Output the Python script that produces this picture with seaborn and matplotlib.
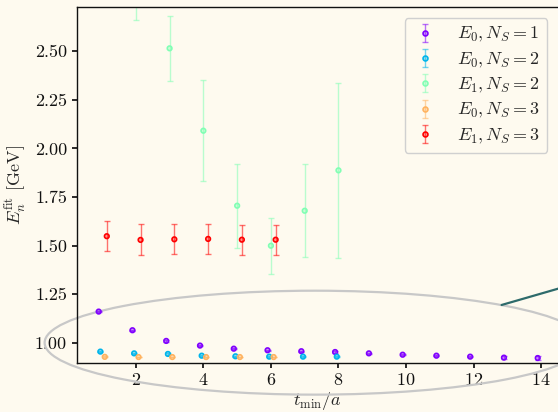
import numpy as np
import pandas as pd
import matplotlib
matplotlib.use("Agg")
import matplotlib.pyplot as plt
import seaborn as sns
from matplotlib.patches import Ellipse
from matplotlib.lines import Line2D
from matplotlib.legend_handler import HandlerTuple

# ---- data ----
t_e0_ns1 = [1, 2, 3, 4, 5, 6, 7, 8, 9, 10, 11, 12, 13, 14]
e0_ns1 = [1.160, 1.064, 1.009, 0.985, 0.969, 0.961, 0.956, 0.952, 0.945, 0.938, 0.933, 0.928, 0.923, 0.921]
e0_ns1_err = [0.004, 0.003, 0.003, 0.003, 0.003, 0.003, 0.003, 0.003, 0.003, 0.003, 0.003, 0.004, 0.006, 0.012]

t_e0_ns2 = [1, 2, 3, 4, 5, 6, 7, 8]
e0_ns2 = [0.954, 0.945, 0.942, 0.933, 0.930, 0.928, 0.928, 0.928]
e0_ns2_err = [0.003, 0.003, 0.003, 0.003, 0.003, 0.003, 0.003, 0.003]

t_e1_ns2 = [2, 3, 4, 5, 6, 7, 8]
e1_ns2 = [2.90, 2.515, 2.091, 1.705, 1.499, 1.679, 1.887]
e1_ns2_err = [0.24, 0.167, 0.26, 0.216, 0.144, 0.24, 0.45]

t_e0_ns3 = [1, 2, 3, 4, 5, 6]
e0_ns3 = [0.927, 0.926, 0.926, 0.926, 0.926, 0.926]
e0_ns3_err = [0.002, 0.002, 0.002, 0.002, 0.002, 0.002]

t_e1_ns3 = [1, 2, 3, 4, 5, 6]
e1_ns3 = [1.548, 1.529, 1.532, 1.534, 1.530, 1.530]
e1_ns3_err = [0.077, 0.080, 0.078, 0.078, 0.078, 0.078]

labels = [r"$E_0, N_S = 1$", r"$E_0, N_S = 2$", r"$E_1, N_S = 2$",
          r"$E_0, N_S = 3$", r"$E_1, N_S = 3$"]
offsets = [-0.1, -0.05, 0.0, 0.08, 0.14]

series = [
    (t_e0_ns1, e0_ns1, e0_ns1_err),
    (t_e0_ns2, e0_ns2, e0_ns2_err),
    (t_e1_ns2, e1_ns2, e1_ns2_err),
    (t_e0_ns3, e0_ns3, e0_ns3_err),
    (t_e1_ns3, e1_ns3, e1_ns3_err),
]

bg = "#fefaef"
sns.set_theme(style="ticks", rc={
    "figure.facecolor": bg, "axes.facecolor": bg, "savefig.facecolor": bg,
    "axes.edgecolor": "#111111", "axes.linewidth": 1.0,
    "xtick.direction": "out", "ytick.direction": "out",
    "xtick.major.size": 3.5, "ytick.major.size": 3.5,
    "xtick.color": "#111111", "ytick.color": "#111111",
})
plt.rcParams["font.family"] = ["cmr10", "DejaVu Serif"]
plt.rcParams["mathtext.fontset"] = "cm"
plt.rcParams["axes.formatter.use_mathtext"] = True

colors = [plt.cm.rainbow(v) for v in np.linspace(0, 1, 5)]

fig = plt.figure(figsize=(5.58, 4.12), dpi=100)
ax = fig.add_axes([0.1375, 0.1197, 0.8625, 0.8625])

frames = []
for i, ((t, v, e), lab) in enumerate(zip(series, labels)):
    x = np.array(t, dtype=float) + offsets[i]
    frames.append(pd.DataFrame({"x": x, "y": v, "err": e, "series": lab}))
df = pd.concat(frames, ignore_index=True)

handles = []
for i, lab in enumerate(labels):
    d = df[df["series"] == lab]
    c = colors[i]
    eb = ax.errorbar(d["x"], d["y"], yerr=d["err"], fmt="none", ecolor=c,
                     elinewidth=1.0, capsize=2.2, capthick=1.0, alpha=0.55, zorder=2)
    mk = Line2D([], [], marker="o", linestyle="none", markersize=3.5,
                markeredgecolor=c, markerfacecolor=(c[0], c[1], c[2], 0.35),
                markeredgewidth=1.2)
    handles.append((eb, mk))

sns.scatterplot(data=df, x="x", y="y", hue="series", hue_order=labels,
                palette=colors, ax=ax, legend=False, s=11, marker="o",
                linewidth=1.2, zorder=3)
for coll in ax.collections:
    if hasattr(coll, "get_offsets") and len(coll.get_offsets()) == len(df):
        fc = coll.get_facecolors()
        coll.set_edgecolors(fc.copy())
        fc2 = fc.copy()
        fc2[:, 3] = 0.35
        coll.set_facecolors(fc2)

ax.set_xlim(0.25, 14.5)
ax.set_ylim(0.897, 2.726)
ax.set_xticks([2, 4, 6, 8, 10, 12, 14])
ax.set_yticks([1.00, 1.25, 1.50, 1.75, 2.00, 2.25, 2.50])
ax.yaxis.set_major_formatter(matplotlib.ticker.FormatStrFormatter("%.2f"))
ax.tick_params(labelsize=13)
ax.spines["right"].set_visible(False)

ax.set_xlabel(r"$t_{\rm min}/a$", fontsize=13, labelpad=1)
ax.set_ylabel(r"$E_n^{\rm fit}$ [GeV]", fontsize=13, labelpad=4)

ell = Ellipse((7.3, 1.0), 16.0, 0.535, fill=False, edgecolor="#c8c8c8",
              linewidth=1.6, clip_on=False, zorder=1)
ax.add_patch(ell)
ax.plot([12.83, 16.0], [1.194, 1.353], color="#2e6b6b", linewidth=1.6,
        clip_on=False, zorder=1)

leg = ax.legend(handles, labels, loc="upper right", fontsize=13,
                handler_map={tuple: HandlerTuple(ndivide=1)},
                frameon=True, fancybox=True, framealpha=1.0,
                facecolor=bg, edgecolor="#d0d0d0", handlelength=1.5,
                handletextpad=1.0, borderaxespad=0.6, labelspacing=0.35)

fig.savefig("out.png", dpi=100, facecolor=bg)
